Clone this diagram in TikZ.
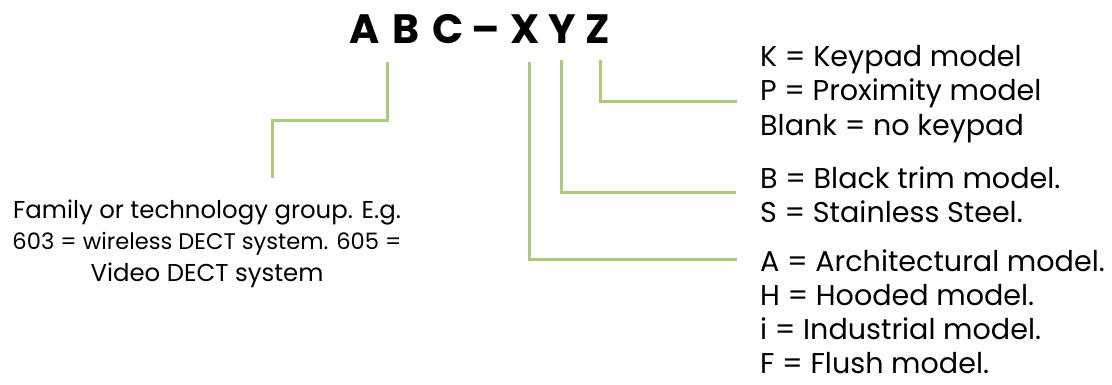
\documentclass[tikz,border=0pt]{standalone}
\usepackage{fontspec}
\setmainfont{Poppins}
\definecolor{lg}{RGB}{172,202,122}
\begin{document}
\begin{tikzpicture}[x=1pt,y=-1pt,
  conn/.style={draw=lg, line width=3pt},
  lbl/.style={inner sep=0pt, font=\fontsize{28.6}{28.6}\selectfont},
  lbll/.style={inner sep=0pt, font=\fontsize{24.4}{24.4}\selectfont},
  ttl/.style={inner sep=0pt, anchor=base, font=\bfseries\fontsize{41}{41}\selectfont}]
\useasboundingbox (0,0) rectangle (1112,384);
% title letters
\node[ttl] (tA) at (365,43) {A};
\node[ttl] (tB) at (406,43) {B};
\node[ttl] (tC) at (448,43) {C};
\node[ttl] (tD) at (486,43) {–};
\node[ttl] (tX) at (525,43) {X};
\node[ttl] (tY) at (562,43) {Y};
\node[ttl] (tZ) at (598,43) {Z};
% left description
\node[lbll, anchor=base] (f1) at (207,218) {Family or technology group. E.g.};
\node[lbll, anchor=base, font=\fontsize{22.6}{22.6}\selectfont] (f2) at (207,249) {603 = wireless DECT system. 605 =};
\node[lbll, anchor=base] (f3) at (207,281) {Video DECT system};
% Z group
\node[lbl, anchor=base west] (z1) at (760,66) {K = Keypad model};
\node[lbl, anchor=base west] (z2) at (760,100) {P = Proximity model};
\node[lbl, anchor=base west] (z3) at (760,135) {Blank = no keypad};
% Y group
\node[lbl, anchor=base west] (y1) at (760,188) {B = Black trim model.};
\node[lbl, anchor=base west] (y2) at (760,222) {S = Stainless Steel.};
% X group
\node[lbl, anchor=base west] (x1) at (760,271) {A = Architectural model.};
\node[lbl, anchor=base west] (x2) at (760,305) {H = Hooded model.};
\node[lbl, anchor=base west] (x3) at (760,339) {i = Industrial model.};
\node[lbl, anchor=base west] (x4) at (760,373) {F = Flush model.};
% connector coordinates
\coordinate (abc) at (387,62);
\coordinate (fam) at (272,178);
\coordinate (xs) at (529,62);
\coordinate (ys) at (561,60);
\coordinate (zs) at (600,60);
\coordinate (xe) at (737,259);
\coordinate (ye) at (736,192);
\coordinate (ze) at (737,101);
\draw[conn] (abc) -- (abc |- 0,120) -- (fam |- 0,120) -- (fam);
\draw[conn] (xs) |- (xe);
\draw[conn] (ys) |- (ye);
\draw[conn] (zs) |- (ze);
\end{tikzpicture}
\end{document}
